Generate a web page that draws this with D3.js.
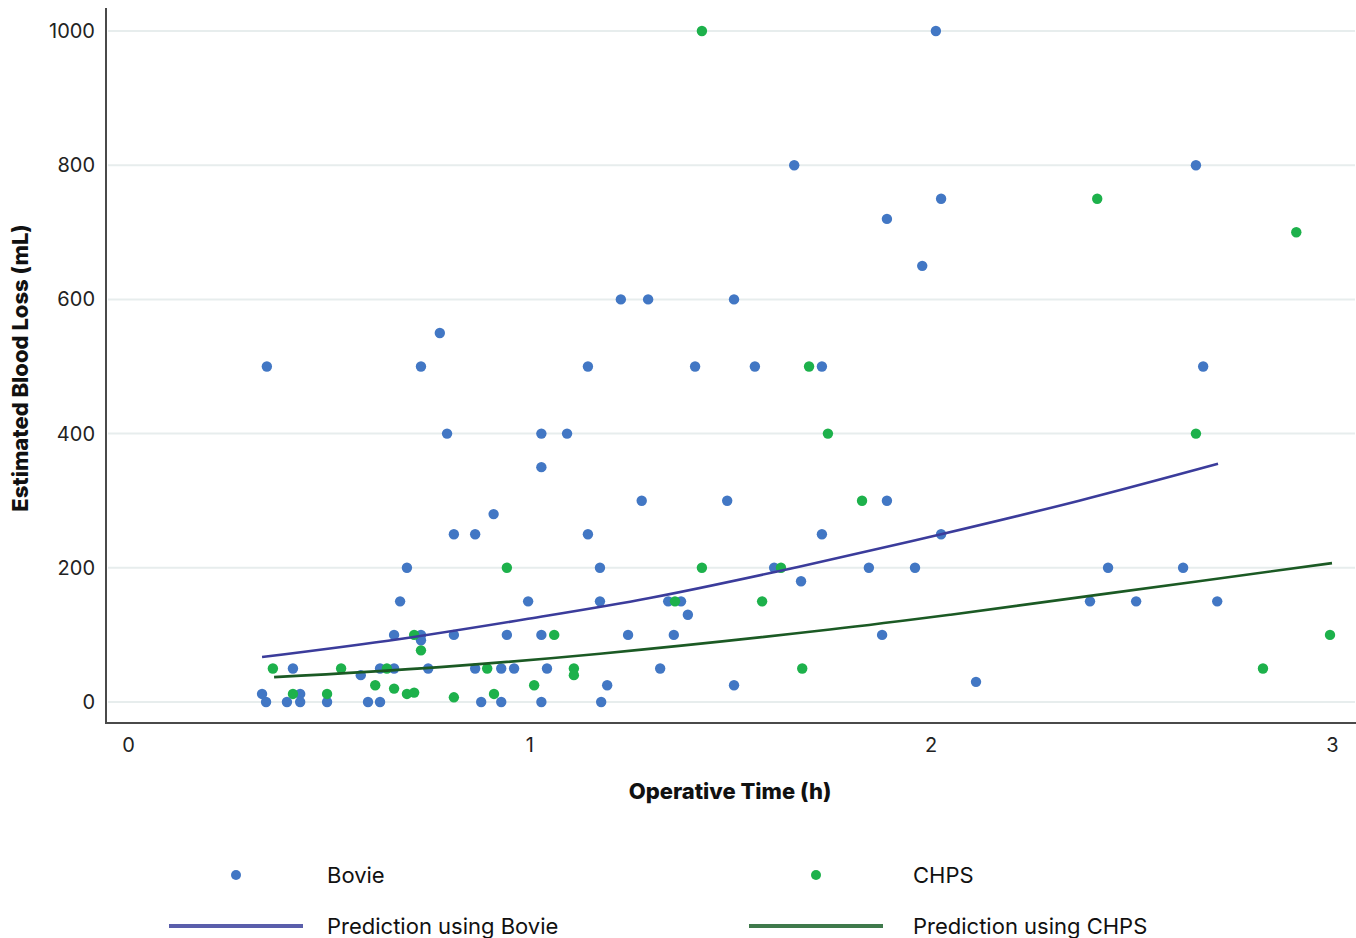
<!DOCTYPE html>
<html>
<head>
<meta charset="utf-8">
<script src="https://cdn.jsdelivr.net/npm/d3@7"></script>
<style>
  body { margin: 0; background: #fff; }
  svg { display: block; font-family: Inter, "Open Sans", sans-serif; }
</style>
</head>
<body>
<div id="chart"></div>
<script>
// Bovie points: operative time (h) / estimated blood loss (mL)
const bovieTime = [0.334, 0.344, 0.346, 0.396, 0.411, 0.429, 0.429, 0.496, 0.58, 0.598,
  0.628, 0.628, 0.663, 0.663, 0.678, 0.695, 0.73, 0.73, 0.73, 0.748,
  0.777, 0.795, 0.812, 0.812, 0.865, 0.865, 0.88, 0.911, 0.93, 0.93,
  0.944, 0.962, 0.997, 1.03, 1.03, 1.03, 1.03, 1.044, 1.094, 1.146,
  1.146, 1.176, 1.176, 1.179, 1.194, 1.228, 1.246, 1.28, 1.296, 1.326,
  1.346, 1.36, 1.378, 1.395, 1.413, 1.493, 1.51, 1.51, 1.562, 1.61,
  1.66, 1.677, 1.729, 1.729, 1.846, 1.879, 1.891, 1.891, 1.961, 1.979,
  2.013, 2.026, 2.026, 2.113, 2.397, 2.442, 2.512, 2.629, 2.661, 2.679, 2.714];
const bovieEBL = [12, 0, 500, 0, 50, 12, 0, 0, 40, 0,
  50, 0, 100, 50, 150, 200, 500, 100, 92, 50,
  550, 400, 100, 250, 250, 50, 0, 280, 50, 0,
  100, 50, 150, 400, 350, 100, 0, 50, 400, 500,
  250, 200, 150, 0, 25, 600, 100, 300, 600, 50,
  150, 100, 150, 130, 500, 300, 600, 25, 500, 200,
  800, 180, 500, 250, 200, 100, 720, 300, 200, 650,
  1000, 750, 250, 30, 150, 200, 150, 200, 800, 500, 150];

// CHPS points
const chpsTime = [0.361, 0.411, 0.496, 0.531, 0.616, 0.645, 0.663, 0.695, 0.713, 0.713,
  0.73, 0.812, 0.895, 0.912, 0.944, 1.012, 1.062, 1.111, 1.111, 1.363,
  1.43, 1.43, 1.58, 1.627, 1.68, 1.697, 1.744, 1.829, 2.415, 2.661,
  2.828, 2.911, 2.995];
const chpsEBL = [50, 12, 12, 50, 25, 50, 20, 12, 14, 100,
  77, 7, 50, 12, 200, 25, 100, 50, 40, 150,
  1000, 200, 150, 200, 50, 500, 400, 300, 750, 400,
  50, 700, 100];

// prediction curves
const bovieFitTime = [0.334, 0.678, 0.997, 1.30, 1.675, 2.026, 2.37, 2.716];
const bovieFitEBL  = [67, 94, 124, 155, 202, 250, 300, 355];
const chpsFitTime = [0.364, 0.777, 1.176, 1.749, 2.048, 2.42, 3.0];
const chpsFitEBL  = [37, 52, 72, 108, 130, 160, 207];

const xTicks = [0, 1, 2, 3];
const yTicks = [0, 200, 400, 600, 800, 1000];

const legendItems = [
  { label: "Bovie", type: "dot", color: "#4277c4" },
  { label: "CHPS", type: "dot", color: "#1db14b" },
  { label: "Prediction using Bovie", type: "line", color: "#5a5eab" },
  { label: "Prediction using CHPS", type: "line", color: "#3f7a4c" }
];

const W = 1356, H = 938;

const svg = d3.select("#chart").append("svg")
    .attr("width", W)
    .attr("height", H);

const x = d3.scaleLinear().domain([0, 3]).range([128, 1332]);
const y = d3.scaleLinear().domain([0, 1000]).range([702, 31]);

const axisLeftX = 106, axisBottomY = 723;

// gridlines
svg.append("g").selectAll("line")
    .data(yTicks)
    .join("line")
    .attr("x1", axisLeftX + 2)
    .attr("x2", 1355)
    .attr("y1", d => y(d))
    .attr("y2", d => y(d))
    .attr("stroke", "#e7eded")
    .attr("stroke-width", 2);

// y axis labels
const yAxis = svg.append("g")
    .attr("transform", `translate(${axisLeftX},0)`)
    .call(d3.axisLeft(y).tickValues(yTicks).tickFormat(d3.format("d")).tickSize(0).tickPadding(11));
yAxis.select(".domain").remove();
yAxis.selectAll("text")
    .attr("font-family", "Inter, sans-serif")
    .attr("font-size", 20)
    .attr("fill", "#222");

// x axis labels
const xAxis = svg.append("g")
    .attr("transform", `translate(0,${axisBottomY})`)
    .call(d3.axisBottom(x).tickValues(xTicks).tickFormat(d3.format("d")).tickSize(0).tickPadding(15));
xAxis.select(".domain").remove();
xAxis.selectAll("text")
    .attr("font-family", "Inter, sans-serif")
    .attr("font-size", 20)
    .attr("fill", "#222");

// axis lines
svg.append("line")
    .attr("x1", axisLeftX).attr("x2", axisLeftX)
    .attr("y1", 8).attr("y2", axisBottomY + 1)
    .attr("stroke", "#4a4a4a").attr("stroke-width", 2);
svg.append("line")
    .attr("x1", axisLeftX - 1).attr("x2", 1356)
    .attr("y1", axisBottomY).attr("y2", axisBottomY)
    .attr("stroke", "#4a4a4a").attr("stroke-width", 2);

// axis titles
svg.append("text")
    .attr("x", 730)
    .attr("y", 799)
    .attr("text-anchor", "middle")
    .attr("font-size", 22)
    .attr("font-weight", 800)
    .attr("fill", "#111")
    .text("Operative Time (h)");

svg.append("text")
    .attr("transform", "translate(28,368) rotate(-90)")
    .attr("text-anchor", "middle")
    .attr("font-size", 22)
    .attr("font-weight", 800)
    .attr("fill", "#111")
    .text("Estimated Blood Loss (mL)");

// points
const bovie = bovieTime.map((t, i) => ({ t: t, v: bovieEBL[i] }));
const chps = chpsTime.map((t, i) => ({ t: t, v: chpsEBL[i] }));

svg.append("g").selectAll("circle")
    .data(bovie)
    .join("circle")
    .attr("cx", d => x(d.t))
    .attr("cy", d => y(d.v))
    .attr("r", 5.2)
    .attr("fill", "#4277c4");

svg.append("g").selectAll("circle")
    .data(chps)
    .join("circle")
    .attr("cx", d => x(d.t))
    .attr("cy", d => y(d.v))
    .attr("r", 5.2)
    .attr("fill", "#1db14b");

// prediction curves
const line = d3.line()
    .x(d => x(d.t))
    .y(d => y(d.v))
    .curve(d3.curveCatmullRom);

svg.append("path")
    .datum(bovieFitTime.map((t, i) => ({ t: t, v: bovieFitEBL[i] })))
    .attr("d", line)
    .attr("fill", "none")
    .attr("stroke", "#3b3c9b")
    .attr("stroke-width", 2.6);

svg.append("path")
    .datum(chpsFitTime.map((t, i) => ({ t: t, v: chpsFitEBL[i] })))
    .attr("d", line)
    .attr("fill", "none")
    .attr("stroke", "#1b5a24")
    .attr("stroke-width", 2.6);

// legend
const legendPos = [
  { sx: 236, tx: 327, y: 875 },
  { sx: 816, tx: 913, y: 875 },
  { sx: 236, tx: 327, y: 926 },
  { sx: 816, tx: 913, y: 926 }
];

const legend = svg.append("g");
legendItems.forEach((item, i) => {
  const p = legendPos[i];
  if (item.type === "dot") {
    legend.append("circle")
        .attr("cx", p.sx).attr("cy", p.y)
        .attr("r", 5)
        .attr("fill", item.color);
  } else {
    legend.append("line")
        .attr("x1", p.sx - 67).attr("x2", p.sx + 67)
        .attr("y1", p.y).attr("y2", p.y)
        .attr("stroke", item.color)
        .attr("stroke-width", 4);
  }
  legend.append("text")
      .attr("x", p.tx)
      .attr("y", p.y)
      .attr("dy", "0.35em")
      .attr("font-size", 22)
      .attr("fill", "#111")
      .text(item.label);
});
</script>
</body>
</html>
